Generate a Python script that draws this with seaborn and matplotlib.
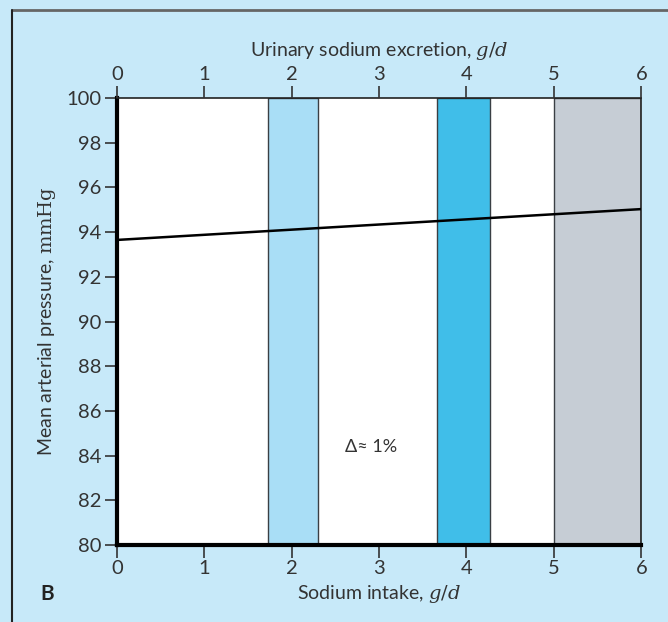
import numpy as np
import pandas as pd
import matplotlib
matplotlib.use("Agg")
import matplotlib.pyplot as plt
import seaborn as sns

# data
intake = [0, 6]
pressure = [93.65, 95.03]
band_starts = [1.73, 3.66, 5.0]
band_ends = [2.30, 4.27, 6.0]
band_colors = ["#a9def6", "#40bee9", "#c6cdd5"]
xticks = [0, 1, 2, 3, 4, 5, 6]
yticks = list(range(80, 101, 2))

sns.set_theme(style="white")
plt.rcParams['font.family'] = ['Lato', 'DejaVu Sans']
plt.rcParams['mathtext.fontset'] = 'dejavuserif'

bg = "#c7e9f9"
fig = plt.figure(figsize=(6.68, 6.22), dpi=100, facecolor=bg)
ax = fig.add_axes([0.175, 0.1238, 0.785, 0.7186])
ax.set_facecolor("white")

for s, e, c in zip(band_starts, band_ends, band_colors):
    ax.axvspan(s, e, facecolor=c, edgecolor="#3a3f44", linewidth=1.0, zorder=1)

df = pd.DataFrame({"intake": intake, "pressure": pressure})
sns.lineplot(data=df, x="intake", y="pressure", color="black", linewidth=1.8, ax=ax, zorder=3)

ax.text(2.91, 84.4, "Δ≈ 1%", fontsize=13, ha="center", va="center", color="#333333",
        family=['Lato', 'DejaVu Sans'])

ax.set_xlim(0, 6)
ax.set_ylim(80, 100)
ax.set_xticks(xticks)
ax.set_yticks(yticks)
ax.tick_params(axis="both", direction="out", length=9, width=1.2, color="#333333",
               labelsize=14.5, labelcolor="#333333", pad=2,
               bottom=True, left=True)
ax.set_xlabel("Sodium intake, $\\mathit{g/d}$", fontsize=14, color="#333333", labelpad=4)
ax.set_ylabel("Mean arterial pressure, $\\mathrm{mmHg}$", fontsize=14, color="#333333", labelpad=6)

for side in ["left", "bottom"]:
    ax.spines[side].set_linewidth(3)
    ax.spines[side].set_color("black")
for side in ["top", "right"]:
    ax.spines[side].set_linewidth(1.2)
    ax.spines[side].set_color("#222222")

top = ax.twiny()
top.set_xlim(0, 6)
top.set_xticks(xticks)
top.tick_params(axis="x", direction="out", length=9, width=1.2, color="#333333",
                labelsize=14.5, labelcolor="#333333", pad=2, top=True)
top.set_xlabel("Urinary sodium excretion, $\\mathit{g/d}$", fontsize=14, color="#333333", labelpad=7)
for s in top.spines.values():
    s.set_visible(False)

fig.text(0.06, 0.045, "B", fontsize=15, fontweight="bold", color="#222222", ha="left", va="center")

# frame lines on top and left like the reference panel
fig.add_artist(plt.Line2D([0.018, 1.0], [0.984, 0.984], color="#666666", linewidth=2, transform=fig.transFigure))
fig.add_artist(plt.Line2D([0.018, 0.018], [0.0, 0.984], color="#222222", linewidth=1.5, transform=fig.transFigure))

fig.savefig("out.png", dpi=100, facecolor=bg)
